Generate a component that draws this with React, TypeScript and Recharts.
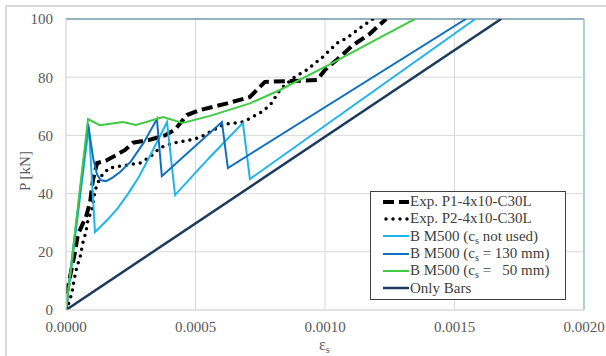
import React from "react";
import {
  LineChart,
  Line,
  XAxis,
  YAxis,
  CartesianGrid,
  ReferenceLine,
  Legend,
} from "recharts";

// strain values (x) and load values (y)
const expP1Strain = [0, 0.000003, 0.000035, 0.000046, 0.000077, 0.000093, 0.000104, 0.00012, 0.000154, 0.000189, 0.000228, 0.000259, 0.000324, 0.000382, 0.000421, 0.000467, 0.000517, 0.000622, 0.00071, 0.000741, 0.000768, 0.000969, 0.001, 0.001046, 0.001108, 0.001174, 0.001236];
const expP1Load = [0, 6, 20, 26, 32, 37, 44.7, 50.5, 51.3, 53, 55, 57.5, 58.5, 60, 62, 67, 68.7, 71, 73.2, 76, 78.4, 79, 82.5, 86, 91, 95, 100];

const expP2Strain = [0, 0.000008, 0.000023, 0.000031, 0.000042, 0.000054, 0.000066, 0.000077, 0.000085, 0.0001, 0.000112, 0.000131, 0.000166, 0.000236, 0.000286, 0.000324, 0.000363, 0.000413, 0.000479, 0.000517, 0.00061, 0.000683, 0.000749, 0.000788, 0.000826, 0.000876, 0.00093, 0.000992, 0.001046, 0.001085, 0.001135, 0.001185];
const expP2Load = [0, 1.7, 5.8, 10.3, 14.8, 18, 23.4, 26.8, 31, 34.4, 41, 45.5, 48.8, 49.8, 50.5, 52.6, 55.7, 57.4, 58.4, 59.3, 63.8, 64.6, 67.7, 70.4, 75.6, 79.7, 82.5, 87, 91.7, 93.5, 96.9, 100];

const notUsedStrain = [0, 0.000088, 0.000112, 0.00016, 0.0002, 0.00024, 0.00028, 0.000313, 0.00035, 0.00039, 0.000421, 0.000556, 0.000683, 0.00071, 0.00158];
const notUsedLoad = [0, 63, 26.8, 31, 35, 40, 45.5, 51, 57.5, 64.6, 39.5, 52.6, 64.3, 45, 100];

const cs130Strain = [0, 0.000085, 0.000105, 0.00012, 0.000135, 0.000155, 0.00018, 0.00021, 0.00025, 0.0003, 0.000351, 0.00037, 0.000602, 0.000625, 0.001544];
const cs130Load = [0, 64, 52, 46.5, 44.6, 44.3, 45.5, 47.5, 51, 57.5, 65.6, 46, 64.6, 48.8, 100];

const cs50Strain = [0, 0.000085, 0.00013, 0.00022, 0.00027, 0.000375, 0.00045, 0.000556, 0.00071, 0.000826, 0.00102, 0.00121, 0.001347];
const cs50Load = [0, 65.6, 63.5, 64.6, 63.6, 66.3, 64.3, 66.7, 71, 75.6, 84.5, 93.5, 100];

const barsStrain = [0, 0.00168];
const barsLoad = [0, 100];

const xTicks = [0, 0.0005, 0.001, 0.0015, 0.002];
const yTicks = [0, 20, 40, 60, 80, 100];

const toPoints = (xs: number[], ys: number[]) => xs.map((x, i) => ({ x, y: ys[i] }));

const series = [
  { key: "p1", data: toPoints(expP1Strain, expP1Load), color: "#000000", width: 4, dash: "11 5", cap: "butt" },
  { key: "p2", data: toPoints(expP2Strain, expP2Load), color: "#000000", width: 3.5, dash: "0 7", cap: "round" },
  { key: "nu", data: toPoints(notUsedStrain, notUsedLoad), color: "#1EB4EE", width: 2, dash: undefined, cap: "butt" },
  { key: "c130", data: toPoints(cs130Strain, cs130Load), color: "#1170BD", width: 2, dash: undefined, cap: "butt" },
  { key: "c50", data: toPoints(cs50Strain, cs50Load), color: "#3FCB44", width: 2, dash: undefined, cap: "butt" },
  { key: "bars", data: toPoints(barsStrain, barsLoad), color: "#1B3A5C", width: 2.5, dash: undefined, cap: "butt" },
];

const font = "'Liberation Serif', 'Times New Roman', serif";

const XTick = (props: any) => {
  const { x, y, payload } = props;
  return (
    <text x={x} y={y + 11} dy="0.71em" textAnchor="middle" fontFamily={font} fontSize={15} fill="#595959">
      {Number(payload.value).toFixed(4)}
    </text>
  );
};

const YTick = (props: any) => {
  const { x, y, payload } = props;
  return (
    <text x={x - 13} y={y} dy="0.355em" textAnchor="end" fontFamily={font} fontSize={15} fill="#595959">
      {payload.value}
    </text>
  );
};

const Sub = ({ children }: { children: React.ReactNode }) => (
  <span style={{ fontSize: 10, position: "relative", top: 3 }}>{children}</span>
);

const legendRows: { key: string; label: React.ReactNode }[] = [
  { key: "p1", label: "Exp. P1-4x10-C30L" },
  { key: "p2", label: "Exp. P2-4x10-C30L" },
  { key: "nu", label: <>B M500 (c<Sub>s</Sub> not used)</> },
  { key: "c130", label: <>B M500 (c<Sub>s</Sub> = 130 mm)</> },
  { key: "c50", label: <>B M500 (c<Sub>s</Sub> =   50 mm)</> },
  { key: "bars", label: "Only Bars" },
];

function LegendBox() {
  return (
    <div
      style={{
        border: "1px solid #404040",
        background: "#fff",
        padding: "1px 0 2px 12px",
        fontFamily: font,
        fontSize: 15,
        color: "#404040",
        width: 182,
      }}
    >
      {legendRows.map((row) => {
        const s = series.find((x) => x.key === row.key)!;
        return (
          <div key={row.key} style={{ display: "flex", alignItems: "center", height: 17.3, whiteSpace: "pre" }}>
            <svg width={27} height={10} style={{ flexShrink: 0 }}>
              <line
                x1={s.cap === "round" ? 3 : 0}
                y1={5}
                x2={26}
                y2={5}
                stroke={s.color}
                strokeWidth={s.width}
                strokeDasharray={s.dash}
                strokeLinecap={s.cap as any}
              />
            </svg>
            <span>{row.label}</span>
          </div>
        );
      })}
    </div>
  );
}

export default function App() {
  return (
    <div style={{ position: "absolute", left: 0, top: 0, width: 606, height: 356, overflow: "hidden", background: "#fff", fontFamily: font }}>
      <div
        style={{
          position: "absolute",
          left: 5,
          top: 5,
          width: 700,
          height: 500,
          borderTop: "2px solid #d9d9d9",
          borderLeft: "2px solid #d9d9d9",
        }}
      />
      <LineChart width={606} height={356} margin={{ top: 19, right: 22, bottom: 16, left: 6 }}>
        <CartesianGrid stroke="#d9d9d9" />
        <XAxis
          type="number"
          dataKey="x"
          domain={[0, 0.002]}
          ticks={xTicks}
          tick={<XTick />}
          tickLine={false}
          tickSize={0}
          tickMargin={0}
          height={30}
          axisLine={{ stroke: "#d9d9d9" }}
          allowDataOverflow
        />
        <YAxis
          type="number"
          dataKey="y"
          domain={[0, 100]}
          ticks={yTicks}
          tick={<YTick />}
          tickLine={false}
          tickSize={0}
          tickMargin={0}
          width={60}
          axisLine={{ stroke: "#d9d9d9" }}
          allowDataOverflow
        />
        <ReferenceLine y={100} stroke="#3F7491" strokeWidth={1.2} />
        <ReferenceLine x={0.002} stroke="#9CC3DE" strokeWidth={1.5} />
        {series.map((s) => (
          <Line
            key={s.key}
            data={s.data}
            dataKey="y"
            type="linear"
            stroke={s.color}
            strokeWidth={s.width}
            strokeDasharray={s.dash}
            strokeLinecap={s.cap as any}
            dot={false}
            activeDot={false}
            isAnimationActive={false}
          />
        ))}
        <Legend
          layout="vertical"
          align="center"
          verticalAlign="middle"
          wrapperStyle={{ left: 370, top: 191, width: 196 }}
          content={() => <LegendBox />}
        />
      </LineChart>
      <div
        style={{
          position: "absolute",
          left: 25,
          top: 171,
          transform: "translate(-50%, -50%) rotate(-90deg)",
          fontSize: 15,
          color: "#595959",
          whiteSpace: "nowrap",
        }}
      >
        P [kN]
      </div>
      <div
        style={{
          position: "absolute",
          left: 319,
          top: 336,
          fontSize: 16,
          color: "#595959",
          whiteSpace: "nowrap",
        }}
      >
        ε<Sub>s</Sub>
      </div>
    </div>
  );
}
